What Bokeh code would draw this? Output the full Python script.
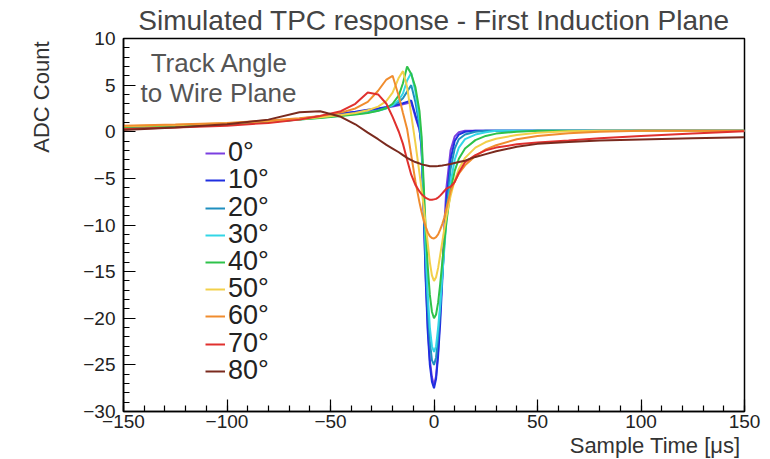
from bokeh.plotting import figure
from bokeh.models import Range1d, SingleIntervalTicker, Label, Legend, LegendItem, Title
from bokeh.embed import file_html
from bokeh.resources import INLINE

# Sample time axis [us] (shared by all curves)
sample_time_us = [-150, -125, -100, -80, -65, -55, -45, -38, -32, -27,
                  -23, -20, -17, -15, -13, -11, -9, -7, -6, -5,
                  -4, -3, -2, -1, 0, 1, 2, 3, 4, 5,
                  6, 8, 10, 12, 15, 20, 25, 30, 40, 50,
                  65, 80, 100, 125, 150]

adc_0deg = [0.45, 0.6, 0.8, 1.05, 1.35, 1.6, 1.9, 2.1, 2.3, 2.45,
            2.6, 2.7, 2.85, 2.95, 3.05, 3.15, 1.6, 0.2, -1.5, -8.0,
            -15.5, -21.0, -24.5, -26.3, -27.2, -26.2, -23.5, -19.5, -15.0, -10.0,
            -6.0, -2.0, -0.5, -0.05, 0.1, 0.1, 0.1, 0.1, 0.1, 0.1,
            0.1, 0.1, 0.1, 0.1, 0.1]
adc_10deg = [0.45, 0.6, 0.82, 1.08, 1.4, 1.65, 1.95, 2.15, 2.35, 2.5,
             2.65, 2.78, 2.95, 3.05, 3.2, 3.35, 1.8, 0.3, -1.8, -8.5,
             -16.0, -21.5, -25.0, -26.8, -27.5, -26.5, -24.0, -20.5, -16.0, -11.5,
             -7.5, -3.0, -1.0, -0.3, 0.0, 0.1, 0.1, 0.1, 0.1, 0.1,
             0.1, 0.1, 0.1, 0.1, 0.1]
adc_20deg = [0.45, 0.6, 0.8, 1.05, 1.35, 1.55, 1.8, 1.95, 2.1, 2.3,
             2.55, 2.8, 3.2, 3.6, 4.3, 5.0, 3.2, 0.6, -1.5, -7.5,
             -14.0, -19.0, -22.5, -24.5, -25.0, -24.2, -22.0, -19.0, -15.5, -12.0,
             -8.5, -4.0, -1.8, -0.8, -0.3, 0.0, 0.1, 0.1, 0.1, 0.1,
             0.1, 0.1, 0.1, 0.1, 0.1]
adc_30deg = [0.5, 0.62, 0.8, 1.05, 1.3, 1.5, 1.75, 1.9, 2.05, 2.25,
             2.5, 2.85, 3.4, 4.1, 5.5, 6.3, 4.3, 1.2, -1.0, -6.5,
             -12.5, -17.5, -21.0, -23.0, -23.6, -23.0, -21.0, -18.5, -15.5, -12.5,
             -9.5, -5.5, -3.0, -1.7, -0.8, -0.3, -0.05, 0.1, 0.1, 0.1,
             0.1, 0.1, 0.1, 0.1, 0.1]
adc_40deg = [0.5, 0.62, 0.8, 1.05, 1.3, 1.48, 1.7, 1.85, 2.0, 2.25,
             2.55, 3.0, 3.9, 5.2, 7.0, 6.2, 4.8, 2.2, -0.5, -5.5,
             -10.5, -14.5, -17.5, -19.3, -20.0, -19.6, -18.3, -16.3, -14.0, -11.8,
             -9.7, -6.3, -4.2, -2.9, -1.8, -0.9, -0.45, -0.2, 0.0, 0.1,
             0.1, 0.1, 0.1, 0.1, 0.1]
adc_50deg = [0.6, 0.72, 0.9, 1.12, 1.35, 1.55, 1.8, 2.0, 2.3, 2.7,
             3.3, 4.2, 5.8, 6.5, 4.8, 1.8, -1.2, -4.5, -6.2, -8.0,
             -10.0, -12.0, -14.0, -15.4, -16.0, -15.6, -14.6, -13.2, -11.8, -10.4,
             -9.1, -6.9, -5.2, -4.0, -2.8, -1.7, -1.1, -0.75, -0.35, -0.1,
             0.05, 0.1, 0.1, 0.1, 0.1]
adc_60deg = [0.65, 0.78, 0.95, 1.2, 1.45, 1.7, 2.05, 2.5, 3.2, 4.4,
             5.6, 6.0, 3.8, 2.0, 0.3, -2.5, -5.3, -7.6, -8.6, -9.5,
             -10.2, -10.8, -11.2, -11.4, -11.45, -11.3, -11.0, -10.5, -9.9, -9.2,
             -8.2, -6.4, -5.3, -4.5, -3.6, -2.6, -1.9, -1.45, -0.8, -0.45,
             -0.15, 0.0, 0.1, 0.1, 0.1]
adc_70deg = [0.3, 0.45, 0.65, 0.95, 1.3, 1.7, 2.2, 3.0, 4.2, 4.0,
             3.0, 1.6, 0.0, -1.3, -3.0, -4.6, -5.7, -6.4, -6.7, -6.9,
             -7.1, -7.2, -7.3, -7.3, -7.25, -7.2, -7.05, -6.85, -6.6, -6.35,
             -6.1, -5.9, -5.4, -4.4, -3.25, -2.5, -2.0, -1.7, -1.35, -1.15,
             -0.95, -0.7, -0.45, -0.2, 0.05]
adc_80deg = [0.2, 0.45, 0.8, 1.3, 2.1, 2.2, 1.6, 0.8, -0.1, -0.8,
             -1.4, -1.8, -2.2, -2.5, -2.8, -3.05, -3.25, -3.4, -3.5, -3.55,
             -3.6, -3.65, -3.7, -3.7, -3.7, -3.7, -3.68, -3.65, -3.62, -3.58,
             -3.54, -3.45, -3.35, -3.25, -3.1, -2.7, -2.4, -2.1, -1.6, -1.3,
             -1.1, -0.95, -0.82, -0.7, -0.6]

angle_labels = ["0°", "10°", "20°", "30°", "40°", "50°", "60°", "70°", "80°"]
series = [adc_0deg, adc_10deg, adc_20deg, adc_30deg, adc_40deg,
          adc_50deg, adc_60deg, adc_70deg, adc_80deg]
colors = ["#7b3fe0", "#1f2fe0", "#1f8fbf", "#33d6e6", "#2ec24a",
          "#f2d04a", "#f08c2e", "#e0302e", "#7a2a1e"]

FONT = "Liberation Sans"

p = figure(width=768, height=458, output_backend="svg", toolbar_location=None,
           x_range=Range1d(-150, 150), y_range=Range1d(-30, 10),
           min_border_left=123, min_border_right=24, min_border_top=37,
           min_border_bottom=47)
p.background_fill_color = "white"
p.border_fill_color = "white"
p.outline_line_color = "black"
p.outline_line_width = 1.5
p.xgrid.visible = False
p.ygrid.visible = False

p.title.text = "Simulated TPC response - First Induction Plane"
p.title.align = "center"
p.title.text_font = FONT
p.title.text_font_size = "28px"
p.title.text_font_style = "normal"
p.title.text_color = "#444444"
p.title.standoff = 5

p.xaxis.ticker = SingleIntervalTicker(interval=50, num_minor_ticks=5)
p.yaxis.ticker = SingleIntervalTicker(interval=5, num_minor_ticks=5)
for ax in (p.xaxis, p.yaxis):
    ax.axis_line_color = "black"
    ax.axis_line_width = 1.5
    ax.major_tick_line_color = "black"
    ax.minor_tick_line_color = "black"
    ax.major_tick_line_width = 1.2
    ax.minor_tick_line_width = 1.2
    ax.major_tick_in = 12
    ax.major_tick_out = 0
    ax.minor_tick_in = 6
    ax.minor_tick_out = 0
    ax.major_label_text_font = FONT
    ax.major_label_text_font_size = "19px"
    ax.major_label_text_color = "#222222"
p.yaxis.major_label_standoff = 8
p.xaxis.major_label_standoff = 3

# axis titles, aligned to the frame ends like the reference
p.add_layout(Title(text="Sample Time [μs]", align="right", offset=4, standoff=0,
                   text_font=FONT, text_font_size="22px", text_font_style="normal",
                   text_color="#333333"), "below")
p.add_layout(Title(text="ADC Count\n", align="right", offset=3, standoff=4,
                   text_font=FONT, text_font_size="22px", text_font_style="normal",
                   text_color="#333333"), "left")

renderers = []
for vals, col in zip(series, colors):
    r = p.line(sample_time_us, vals, line_color=col, line_width=2)
    renderers.append(r)

# one single-entry legend per angle, stacked with the reference's tight row pitch
row_pitch = 27.25
first_row_from_frame_top = 115
frame_height_px = 374
for i, (lab, r) in enumerate(zip(angle_labels, renderers)):
    centre = first_row_from_frame_top + row_pitch * i
    leg = Legend(items=[LegendItem(label=lab, renderers=[r])],
                 location=(82, round(frame_height_px - centre - 16)), orientation="vertical",
                 label_text_font=FONT, label_text_font_size="27px", label_text_color="#222222",
                 glyph_width=20, glyph_height=20, label_standoff=3, spacing=0,
                 padding=0, margin=0, border_line_color=None, background_fill_alpha=0)
    p.add_layout(leg)

p.add_layout(Label(x=-103.6, y=7.33, text="Track Angle",
                   text_font=FONT, text_font_size="26px", text_color="#555555",
                   text_align="center", text_baseline="middle"))
p.add_layout(Label(x=-104.1, y=4.12, text="to Wire Plane",
                   text_font=FONT, text_font_size="26px", text_color="#555555",
                   text_align="center", text_baseline="middle"))

open("out.html", "w").write(file_html(p, INLINE))
